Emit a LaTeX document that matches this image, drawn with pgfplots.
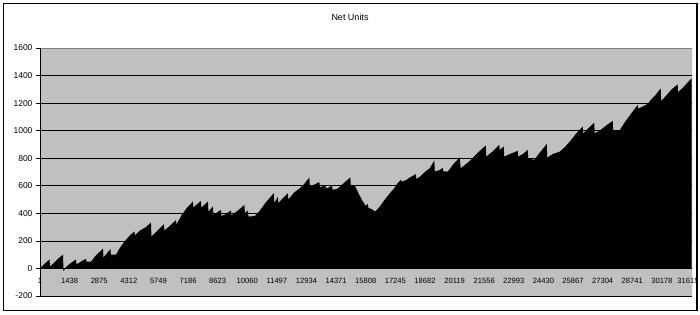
\documentclass[border=0pt]{standalone}
\usepackage{fontspec}
\setmainfont{Liberation Sans}
\usepackage{pgfplots}
\usepackage{pgfplotstable}
\pgfplotsset{compat=1.18}
\definecolor{plotgray}{RGB}{192,192,192}
\definecolor{bordergray}{RGB}{128,128,128}
\pgfplotstableread{
x y
1 0
195 30
462 65
486 15
680 40
874 70
1117 100
1141 -20
1262 10
1456 35
1747 65
1771 30
1990 50
2232 70
2256 50
2475 50
2717 95
3057 143
3081 80
3251 110
3420 140
3445 100
3687 100
3881 150
4124 200
4366 240
4584 268
4608 240
4851 275
5142 300
5385 333
5409 232
5676 270
6015 321
6039 275
6306 310
6597 350
6621 320
6888 390
7131 440
7422 486
7446 442
7616 465
7810 490
7834 442
8004 465
8149 486
8173 413
8392 450
8416 389
8586 405
8780 425
8804 380
9022 395
9265 420
9289 385
9604 420
9919 461
9944 401
10089 420
10113 377
10429 380
10671 420
10962 480
11350 546
11374 474
11544 520
11568 474
11787 510
12029 546
12053 500
12320 550
12611 582
12805 610
13072 660
13096 594
13339 610
13557 626
13581 590
13824 600
13920 580
14163 600
14211 570
14454 580
14745 620
15060 661
15085 600
15279 600
15473 540
15667 486
15812 455
15909 470
15933 440
16103 430
16249 413
16346 425
16491 450
16734 500
16976 545
17194 582
17364 620
17510 643
17558 630
17752 640
17946 660
18237 684
18261 650
18431 665
18674 700
18916 727
19134 783
19159 703
19401 715
19547 730
19571 705
19789 703
20080 760
20371 807
20395 760
20420 727
20856 780
21244 840
21632 892
21656 812
21972 850
22287 897
22311 860
22505 885
22529 812
22796 830
23184 853
23208 812
23427 830
23669 860
23693 800
23984 788
24251 840
24591 903
24615 805
24882 830
25221 848
25464 880
25706 920
25997 975
26337 1030
26361 981
26628 1020
26894 1058
26919 981
27161 1000
27452 1035
27792 1071
27816 998
28107 998
28374 1060
28665 1120
29004 1186
29028 1160
29246 1175
29489 1194
29683 1230
29877 1260
30120 1307
30143 1215
30362 1250
30653 1300
30944 1336
30968 1280
31187 1310
31429 1350
31623 1380
}\netunits
\begin{document}
\begin{tikzpicture}[x=1pt,y=1pt]
\useasboundingbox (0,0) rectangle (700,315);
\begin{axis}[
  at={(40pt,19pt)}, anchor=south west,
  scale only axis, width=652pt, height=248pt,
  xmin=1, xmax=31640, ymin=-200, ymax=1600,
  axis background/.style={fill=plotgray},
  axis line style={draw=none},
  scaled x ticks=false, scaled y ticks=false,
  ytick={-200,0,200,400,600,800,1000,1200,1400,1600},
  yticklabels={-200,0,200,400,600,800,1000,1200,1400,1600},
  ymajorgrids, grid style={black, line width=0.7pt},
  ytick pos=left,
  tick align=outside, major tick length=4pt,
  ytick style={black, line width=0.7pt},
  xtick={1,1438,2875,4312,5749,7186,8623,10060,11497,12934,14371,15808,17245,18682,20119,21556,22993,24430,25867,27304,28741,30178,31615},
  xticklabels={1,1438,2875,4312,5749,7186,8623,10060,11497,12934,14371,15808,17245,18682,20119,21556,22993,24430,25867,27304,28741,30178,{\hspace*{-7pt}31615}},
  xtick style={draw=none},
  yticklabel style={font=\fontsize{8.5}{10}\selectfont},
  xticklabel style={font=\fontsize{7.6}{9}\selectfont, yshift=25pt},
  clip=true,
]
\addplot[fill=black, draw=none] table[x=x, y=y] {\netunits} \closedcycle;
\draw[bordergray, line width=0.7pt] (rel axis cs:0,0) rectangle (rel axis cs:1,1);
\draw[black, line width=0.7pt] (rel axis cs:0,0) -- (rel axis cs:0,1);
\draw[black, line width=0.7pt] (rel axis cs:0,0.1111) -- (rel axis cs:1,0.1111);
\end{axis}
\node[font=\fontsize{9}{11}\selectfont] at (350pt,298pt) {Net Units};
\draw[line width=1.3pt] (3.5pt,4.5pt) rectangle (697pt,311.5pt);
\end{tikzpicture}
\end{document}
